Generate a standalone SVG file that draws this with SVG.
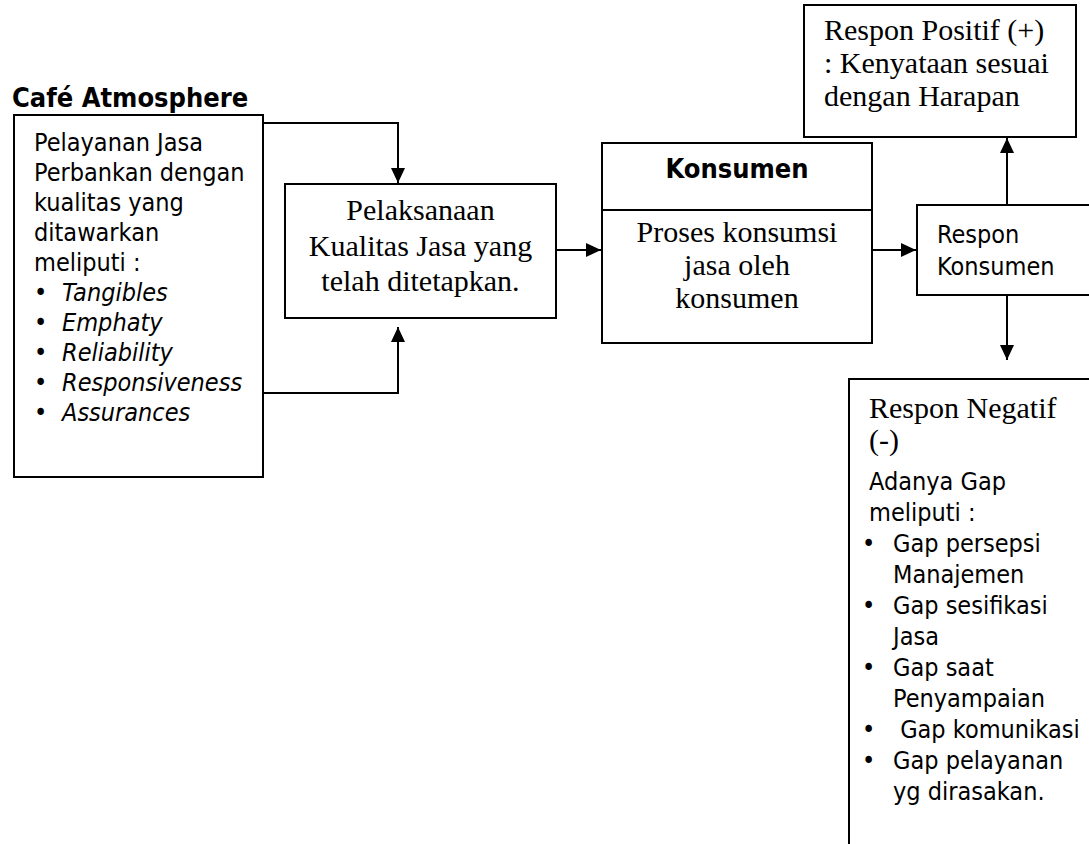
<svg xmlns="http://www.w3.org/2000/svg" width="1089" height="844" viewBox="0 0 1089 844">
<defs>
<style>
.box{fill:#fff;stroke:#000;stroke-width:2}
.ln{fill:none;stroke:#000;stroke-width:2}
.sans{font-family:"DejaVu Sans Condensed","DejaVu Sans",sans-serif;font-stretch:condensed;font-size:25px;fill:#000}
.it{font-style:italic}
.bold{font-weight:bold;font-size:27px}
.serif{font-family:"Liberation Serif","Times New Roman",serif;font-size:30px;fill:#000}
.mid{text-anchor:middle}
</style>
<marker id="ah" markerWidth="15" markerHeight="14" refX="15" refY="7" orient="auto" markerUnits="userSpaceOnUse">
<path d="M0,0 L15,7 L0,14 Z" fill="#000"/>
</marker>
</defs>
<rect width="1089" height="844" fill="#fff"/>

<g id="connectors">
<path class="ln" d="M263,123 H398 V183" marker-end="url(#ah)"/>
<path class="ln" d="M263,393 H398 V327" marker-end="url(#ah)"/>
<path class="ln" d="M556,250 H601" marker-end="url(#ah)"/>
<path class="ln" d="M872,250 H916" marker-end="url(#ah)"/>
<path class="ln" d="M1007,205 V138" marker-end="url(#ah)"/>
<path class="ln" d="M1007,295 V360" marker-end="url(#ah)"/>
</g>

<g id="cafe">
<text class="sans bold" x="12" y="107">Café Atmosphere</text>
<rect class="box" x="14" y="115" width="249" height="362"/>
<text class="sans" x="34" y="151">Pelayanan Jasa</text>
<text class="sans" x="34" y="181">Perbankan dengan</text>
<text class="sans" x="34" y="211">kualitas yang</text>
<text class="sans" x="34" y="241">ditawarkan</text>
<text class="sans" x="34" y="271">meliputi :</text>
<g class="sans">
<text x="34" y="301">•</text><text class="it" x="62" y="301">Tangibles</text>
<text x="34" y="331">•</text><text class="it" x="62" y="331">Emphaty</text>
<text x="34" y="361">•</text><text class="it" x="62" y="361">Reliability</text>
<text x="34" y="391">•</text><text class="it" x="62" y="391">Responsiveness</text>
<text x="34" y="421">•</text><text class="it" x="62" y="421">Assurances</text>
</g>
</g>

<g id="pelaksanaan">
<rect class="box" x="285" y="184" width="271" height="134"/>
<text class="serif mid" x="420.5" y="220">Pelaksanaan</text>
<text class="serif mid" x="420.5" y="256">Kualitas Jasa yang</text>
<text class="serif mid" x="420.5" y="291">telah ditetapkan.</text>
</g>

<g id="konsumen">
<rect class="box" x="602" y="143" width="270" height="200"/>
<line class="ln" x1="602" y1="210" x2="872" y2="210"/>
<text class="sans bold mid" x="737" y="178">Konsumen</text>
<text class="serif mid" x="737" y="242">Proses konsumsi</text>
<text class="serif mid" x="737" y="275">jasa oleh</text>
<text class="serif mid" x="737" y="308">konsumen</text>
</g>

<g id="respon-konsumen">
<rect class="box" x="917" y="205" width="190" height="90"/>
<text class="sans" x="937" y="243">Respon</text>
<text class="sans" x="937" y="275">Konsumen</text>
</g>

<g id="respon-positif">
<rect class="box" x="804" y="5" width="272" height="132"/>
<text class="serif" x="824" y="40">Respon Positif (+)</text>
<text class="serif" x="824" y="73">: Kenyataan sesuai</text>
<text class="serif" x="824" y="106">dengan Harapan</text>
</g>

<g id="respon-negatif">
<rect class="box" x="849" y="379" width="260" height="500"/>
<text class="serif" x="869" y="418">Respon Negatif</text>
<text class="serif" x="869" y="450">(-)</text>
<g class="sans">
<text x="869" y="490">Adanya Gap</text>
<text x="869" y="521">meliputi :</text>
<text x="862" y="552">•</text><text x="893" y="552">Gap persepsi</text>
<text x="893" y="583">Manajemen</text>
<text x="862" y="614">•</text><text x="893" y="614">Gap sesifikasi</text>
<text x="893" y="645">Jasa</text>
<text x="862" y="676">•</text><text x="893" y="676">Gap saat</text>
<text x="893" y="707">Penyampaian</text>
<text x="862" y="738">•</text><text x="893" y="738" xml:space="preserve"> Gap komunikasi</text>
<text x="862" y="769">•</text><text x="893" y="769">Gap pelayanan</text>
<text x="893" y="800">yg dirasakan.</text>
</g>
</g>
</svg>
